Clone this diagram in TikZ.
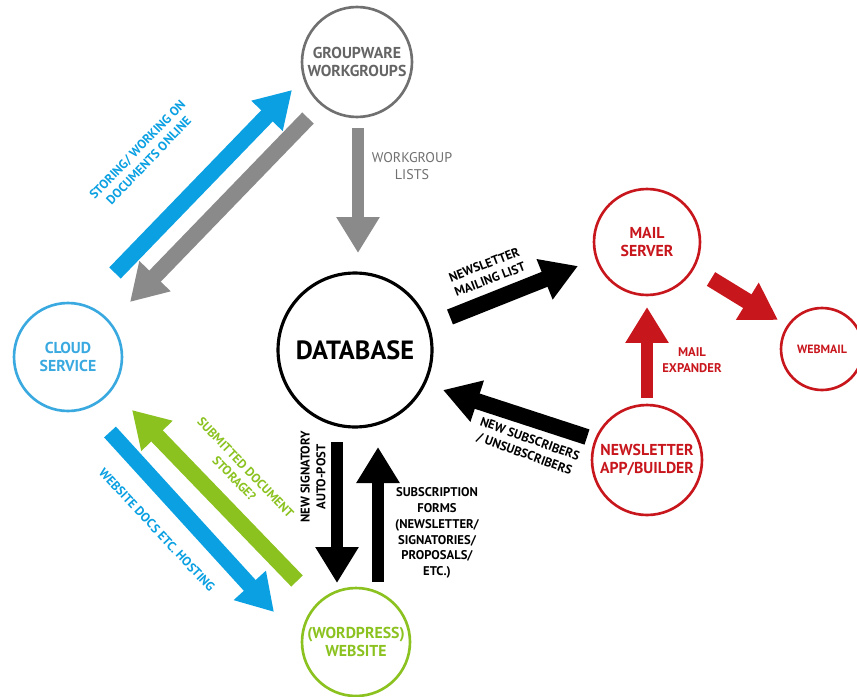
\documentclass[tikz,border=0pt]{standalone}
\usepackage{fontspec}
\setmainfont{PT Sans}
\usetikzlibrary{arrows.meta,positioning}
\definecolor{grp}{HTML}{707070}
\definecolor{grparrow}{HTML}{8A8A8A}
\definecolor{cloudc}{HTML}{3AA9E0}
\definecolor{cloudarrow}{HTML}{0AA0E2}
\definecolor{sitec}{HTML}{8BC220}
\definecolor{mailc}{HTML}{C8161D}
\tikzset{
    x=0.02cm, y=-0.02cm,
    hub/.style ={circle, draw, line width=1.5pt, inner sep=0pt, align=center, minimum size=#1,
      font=\bfseries\fontsize{9}{10.5}\selectfont},
    flow/.style ={line width=0.32cm, -{Triangle[length=0.72cm,width=0.82cm]}},
    vflow/.style ={line width=0.25cm, -{Triangle[length=0.72cm,width=0.82cm]}},
    lbl/.style = {inner sep=0pt, align=center, font=\bfseries\fontsize{7.2}{9}\selectfont}
}
\begin{document}
\begin{tikzpicture}
  \useasboundingbox (0,0) rectangle (857,696);
  \node (group) [hub=2.2cm, grp, text=grp!90!black] at (357, 62) {GROUPWARE\\WORKGROUPS};
  \node (db) [hub=3.08cm, line width=1.8pt, font=\bfseries\fontsize{15}{17}\selectfont] at (355, 350) {DATABASE};
  \node (cloud) [hub=2.16cm, cloudc] at (68, 357) {CLOUD\\SERVICE};
  \node (site) [hub=2.16cm, sitec] at (356, 642) {(WORDPRESS)\\WEBSITE};
  \node (mail) [hub=2.12cm, mailc] at (647, 242) {MAIL\\SERVER};
  \node (app) [hub=2.2cm, mailc] at (647, 460) {NEWSLETTER\\APP/BUILDER};
  \node (web) [hub=1.64cm, mailc, font=\bfseries\fontsize{6.8}{7.5}\selectfont] at (822, 349) {WEBMAIL};

  % arrow ends
  \coordinate (cloud-out) at (115, 273);
  \coordinate (group-in) at (292, 90);
  \coordinate (group-out) at (308, 118);
  \coordinate (cloud-in) at (130, 302);
  \coordinate (group-down) at (358, 128);
  \coordinate (db-top) at (358, 253);
  \coordinate (db-right) at (450, 317);
  \coordinate (mail-left) at (578, 266);
  \coordinate (mail-out) at (711, 279);
  \coordinate (web-in) at (778, 320);
  \coordinate (app-top) at (647, 398);
  \coordinate (mail-bottom) at (647, 307);
  \coordinate (app-left) at (587, 437);
  \coordinate (db-in) at (443, 390);
  \coordinate (db-down) at (337, 442);
  \coordinate (site-top) at (337, 583);
  \coordinate (site-up) at (378, 582);
  \coordinate (db-bottom) at (378, 447);
  \coordinate (site-out) at (297, 581);
  \coordinate (cloud-low) at (132, 410);
  \coordinate (cloud-down) at (110, 432);
  \coordinate (site-in) at (274, 612);

  \draw [flow, cloudarrow] (cloud-out) -- (group-in);
  \draw [flow, grparrow] (group-out) -- (cloud-in);
  \draw [vflow, grparrow] (group-down) -- (db-top);
  \draw [flow, black] (db-right) -- (mail-left);
  \draw [flow, mailc] (mail-out) -- (web-in);
  \draw [vflow, mailc] (app-top) -- (mail-bottom);
  \draw [flow, black] (app-left) -- (db-in);
  \draw [vflow, black] (db-down) -- (site-top);
  \draw [vflow, black] (site-up) -- (db-bottom);
  \draw [flow, sitec] (site-out) -- (cloud-low);
  \draw [flow, cloudarrow] (cloud-down) -- (site-in);

  \node (l1) [lbl, cloudarrow, rotate=46] at (143, 155) {STORING/ WORKING ON\\DOCUMENTS ONLINE};
  \node (l2) [lbl, grp, font=\fontsize{8}{9.5}\selectfont] at (412, 166) {WORKGROUP\\LISTS};
  \node (l3) [lbl, rotate=21] at (487, 272) {NEWSLETTER\\MAILING LIST};
  \node (l4) [lbl, mailc] at (692, 360) {MAIL\\EXPANDER};
  \node (l5) [lbl, rotate=-20] at (527, 447) {NEW SUBSCRIBERS\\/ UNSUBSCRIBERS};
  \node (l6) [lbl, rotate=90] at (313, 477) {NEW SIGNATORY\\AUTO-POST};
  \node (l7) [lbl] at (437, 533) {SUBSCRIPTION\\FORMS\\(NEWSLETTER/\\SIGNATORIES/\\PROPOSALS/\\ETC.)};
  \node (l8) [lbl, sitec, rotate=-46] at (240, 473) {SUBMITTED DOCUMENT\\STORAGE?};
  \node (l9) [lbl, cloudarrow, rotate=-47] at (157, 530) {WEBSITE DOCS ETC. HOSTING};
\end{tikzpicture}
\end{document}
